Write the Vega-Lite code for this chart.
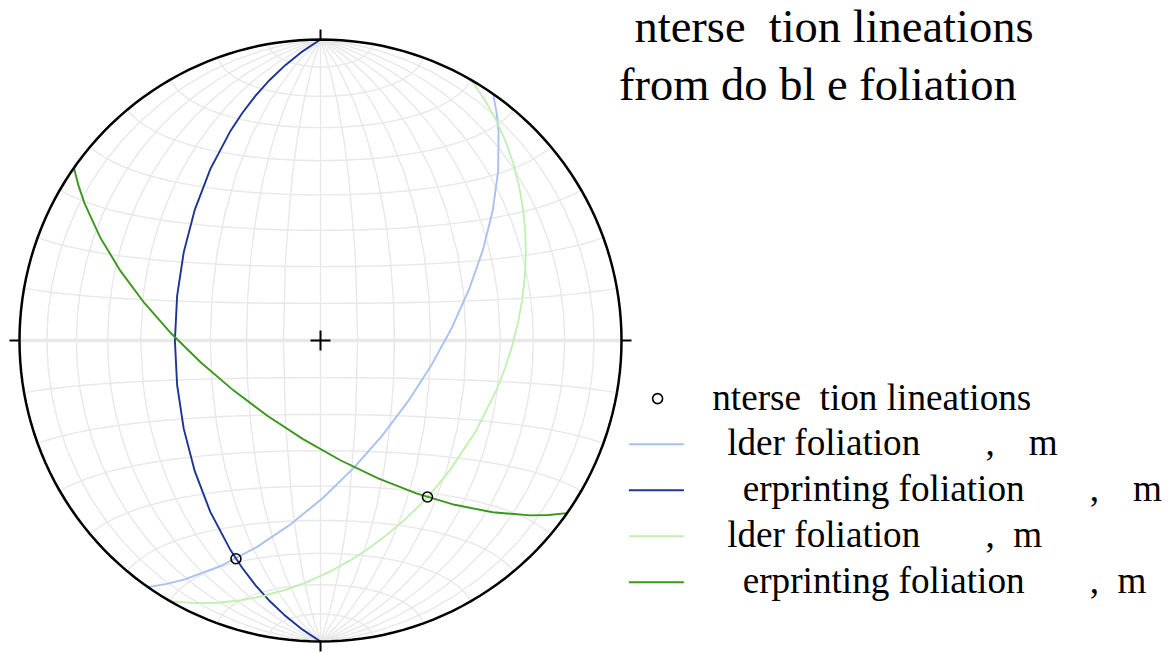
{
  "$schema": "https://vega.github.io/schema/vega-lite/v6.json",
  "width": 1169,
  "height": 653,
  "autosize": {"type": "none"},
  "padding": 0,
  "background": "white",
  "title": {
    "text": ["\u200b\u2004nterse\u00a0\u00a0tion lineations", "from do\u00a0bl\u00a0e foliation"],
    "anchor": "start",
    "frame": "group",
    "orient": "top",
    "offset": 0,
    "dx": 619,
    "dy": 109,
    "baseline": "top",
    "font": "Liberation Serif",
    "fontSize": 46.5,
    "fontWeight": "normal",
    "color": "black",
    "lineHeight": 58,
    "limit": 2000
  },
  "projection": {
    "type": "azimuthalEqualArea",
    "rotate": [0, 0, 0],
    "clipAngle": 90,
    "scale": 212.84,
    "translate": [320.5, 340.5]
  },
  "layer": [
    {
      "data": {"graticule": {"step": [10, 10], "extentMinor": [[-180, -90], [180, 90]]}},
      "mark": {"type": "geoshape", "filled": false, "stroke": "#e8e8e8", "strokeWidth": 1.4}
    },
    {
      "data": {"values": [
        {"type": "Feature", "properties": {"name": "equator"}, "geometry": {"type": "LineString", "coordinates": [[-90, 0], [0, 0], [90, 0]]}}
      ]},
      "mark": {"type": "geoshape", "filled": false, "stroke": "#e8e8e8", "strokeWidth": 3.5}
    },
    {
      "data": {"values": [
        {"type": "Feature", "properties": {"name": "\u200b\u00a0\u00a0\u00a0lder foliation\u00a0\u00a0\u00a0\u00a0\u00a0\u00a0\u00a0,\u00a0\u00a0\u00a0\u2006m"}, "geometry": {"type": "LineString", "coordinates": [[90, 55], [24.42, -16.15], [-90, -55]]}},
        {"type": "Feature", "properties": {"name": "\u200b\u00a0\u00a0\u00a0\u00a0\u2006erprinting foliation\u00a0\u00a0\u00a0\u00a0\u00a0\u00a0\u00a0,\u00a0\u00a0\u00a0\u2006m"}, "geometry": {"type": "LineString", "coordinates": [[0, 90], [-40, 0], [0, -90]]}},
        {"type": "Feature", "properties": {"name": "\u200b\u00a0\u00a0\u00a0lder foliation\u00a0\u00a0\u00a0\u00a0\u00a0\u00a0\u00a0,\u00a0\u00a0m"}, "geometry": {"type": "LineString", "coordinates": [[90, 60], [45.9, -22.52], [-90, -60]]}},
        {"type": "Feature", "properties": {"name": "\u200b\u00a0\u00a0\u00a0\u00a0\u2006erprinting foliation\u00a0\u00a0\u00a0\u00a0\u00a0\u00a0\u00a0,\u00a0\u00a0m"}, "geometry": {"type": "LineString", "coordinates": [[90, -35], [-14.97, -20.26], [-90, 35]]}}
      ]},
      "mark": {"type": "geoshape", "filled": false, "strokeWidth": 1.9},
      "encoding": {
        "stroke": {
          "field": "properties.name",
          "type": "nominal",
          "scale": {
            "domain": [
              "\u200b\u00a0\u00a0\u00a0lder foliation\u00a0\u00a0\u00a0\u00a0\u00a0\u00a0\u00a0,\u00a0\u00a0\u00a0\u2006m",
              "\u200b\u00a0\u00a0\u00a0\u00a0\u2006erprinting foliation\u00a0\u00a0\u00a0\u00a0\u00a0\u00a0\u00a0,\u00a0\u00a0\u00a0\u2006m",
              "\u200b\u00a0\u00a0\u00a0lder foliation\u00a0\u00a0\u00a0\u00a0\u00a0\u00a0\u00a0,\u00a0\u00a0m",
              "\u200b\u00a0\u00a0\u00a0\u00a0\u2006erprinting foliation\u00a0\u00a0\u00a0\u00a0\u00a0\u00a0\u00a0,\u00a0\u00a0m"
            ],
            "range": ["#a9c1f2", "#1f3596", "#c2f0b2", "#3b961d"]
          },
          "legend": {
            "orient": "none",
            "legendX": 637.75,
            "legendY": 425.75,
            "title": null,
            "padding": 0,
            "symbolType": "M-2,0H2",
            "symbolSize": 756,
            "symbolStrokeWidth": 2,
            "rowPadding": 8,
            "labelFont": "Liberation Serif",
            "labelFontSize": 37.2,
            "labelColor": "black",
            "labelOffset": 24.35,
            "labelLimit": 1000
          }
        }
      }
    },
    {
      "data": {"values": [
        {"lon": -40, "lat": -58.92, "kind": "\u200b\u2004nterse\u00a0\u00a0tion lineations"},
        {"lon": 36.72, "lat": -41.18, "kind": "\u200b\u2004nterse\u00a0\u00a0tion lineations"}
      ]},
      "mark": {"type": "point", "filled": false, "stroke": "black", "strokeWidth": 1.6, "size": 100, "opacity": 1},
      "encoding": {
        "longitude": {"field": "lon", "type": "quantitative"},
        "latitude": {"field": "lat", "type": "quantitative"},
        "shape": {
          "field": "kind",
          "type": "nominal",
          "scale": {"range": ["circle"]},
          "legend": {
            "orient": "none",
            "legendX": 639,
            "legendY": 380,
            "title": null,
            "padding": 0,
            "symbolSize": 100,
            "symbolStrokeColor": "black",
            "symbolFillColor": "transparent",
            "symbolStrokeWidth": 1.6,
            "labelFont": "Liberation Serif",
            "labelFontSize": 37.2,
            "labelColor": "black",
            "labelOffset": 23.6,
            "labelLimit": 1000
          }
        }
      }
    },
    {
      "data": {"sphere": true},
      "mark": {"type": "geoshape", "filled": false, "stroke": "black", "strokeWidth": 2.5}
    },
    {
      "data": {"values": [
        {"lon": 0, "lat": 90, "tick": "N"},
        {"lon": 0, "lat": -90, "tick": "S"},
        {"lon": 90, "lat": 0, "tick": "E"},
        {"lon": -90, "lat": 0, "tick": "W"},
        {"lon": 0, "lat": 0, "tick": "C"}
      ]},
      "mark": {"type": "point", "filled": false, "stroke": "black", "strokeWidth": 2, "size": 400, "opacity": 1},
      "encoding": {
        "longitude": {"field": "lon", "type": "quantitative"},
        "latitude": {"field": "lat", "type": "quantitative"},
        "shape": {
          "field": "tick",
          "type": "nominal",
          "scale": {
            "domain": ["N", "S", "E", "W", "C"],
            "range": ["M0,0V-1", "M0,0V1", "M0,0H1", "M0,0H-1", "M-1,0H1M0,-1V1"]
          },
          "legend": null
        }
      }
    }
  ],
  "resolve": {"scale": {"shape": "independent"}, "legend": {"shape": "independent"}},
  "config": {"view": {"stroke": null}}
}
